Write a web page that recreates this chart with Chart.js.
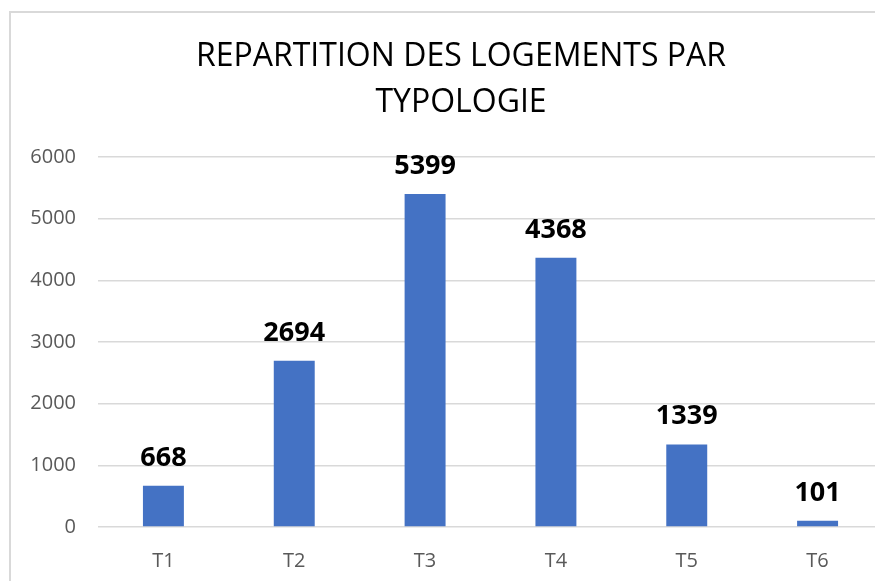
<!DOCTYPE html>
<html>
<head>
<meta charset="utf-8">
<script src="https://cdn.jsdelivr.net/npm/chart.js@4"></script>
<style>
  html, body { margin: 0; padding: 0; background: #ffffff; }
  #wrap { position: relative; width: 875px; height: 581px; overflow: hidden; }
  #frame { position: absolute; left: 9px; top: 11px; width: 900px; height: 700px; border: 2px solid #d9d9d9; pointer-events: none; }
  canvas { position: absolute; left: 0; top: 0; }
</style>
</head>
<body>
<div id="wrap">
  <canvas id="c" width="920" height="581"></canvas>
  <div id="frame"></div>
</div>
<script>
const titleLines = ["REPARTITION DES LOGEMENTS PAR", "TYPOLOGIE"];
const categories = ["T1", "T2", "T3", "T4", "T5", "T6"];
const logements = [668, 2694, 5399, 4368, 1339, 101];
const yTicks = [0, 1000, 2000, 3000, 4000, 5000, 6000];

const valueLabels = {
  id: 'valueLabels',
  afterDatasetsDraw(chart) {
    const ctx = chart.ctx;
    const meta = chart.getDatasetMeta(0);
    ctx.save();
    ctx.font = 'bold 27px "Open Sans"';
    ctx.fillStyle = '#000000';
    ctx.textAlign = 'center';
    ctx.textBaseline = 'alphabetic';
    meta.data.forEach((bar, i) => {
      ctx.fillText(String(logements[i]), bar.x, bar.y - 20);
    });
    ctx.restore();
  }
};

const frameTitle = {
  id: 'frameTitle',
  afterDraw(chart) {
    const ctx = chart.ctx;
    ctx.save();
    ctx.font = '32px "Open Sans"';
    ctx.fillStyle = '#000000';
    ctx.textAlign = 'center';
    ctx.textBaseline = 'middle';
    titleLines.forEach((line, i) => {
      ctx.fillText(line, 461, 57 + i * 46);
    });
    ctx.restore();
  }
};

new Chart(document.getElementById('c'), {
  type: 'bar',
  data: {
    labels: categories,
    datasets: [{
      data: logements,
      backgroundColor: '#4472c4',
      borderWidth: 0,
      categoryPercentage: 1,
      barPercentage: 0.313
    }]
  },
  options: {
    responsive: false,
    animation: false,
    layout: { padding: { left: 0, right: 37, top: 157, bottom: 0 } },
    plugins: {
      legend: { display: false },
      tooltip: { enabled: false },
      title: { display: false }
    },
    scales: {
      x: {
        grid: { display: false },
        border: { display: false },
        ticks: { color: '#595959', font: { family: '"Open Sans"', size: 20 }, padding: 14 },
        afterFit(scale) { scale.height = 54; }
      },
      y: {
        min: 0,
        max: 6000,
        afterBuildTicks(scale) { scale.ticks = yTicks.map(v => ({ value: v })); },
        grid: { color: '#d9d9d9', lineWidth: 1.5, drawTicks: false },
        border: { display: false },
        ticks: {
          color: '#595959',
          font: { family: '"Open Sans"', size: 20 },
          padding: 22,
          callback: (v) => String(v)
        },
        afterFit(scale) { scale.width = 98; }
      }
    }
  },
  plugins: [valueLabels, frameTitle]
});
</script>
</body>
</html>
